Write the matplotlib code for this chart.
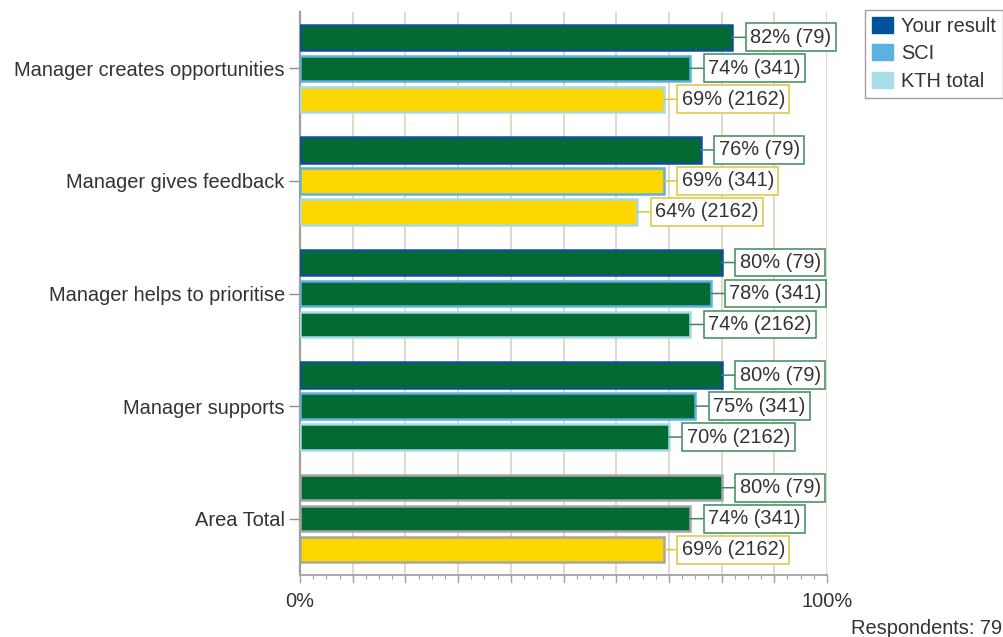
import matplotlib
matplotlib.use("Agg")
import matplotlib.pyplot as plt
from matplotlib.patches import Patch
from matplotlib.ticker import MultipleLocator, FixedLocator

plt.rcParams['font.family'] = ['Liberation Sans', 'DejaVu Sans']

categories = ["Manager creates opportunities", "Manager gives feedback",
              "Manager helps to prioritise", "Manager supports", "Area Total"]
series_names = ["Your result", "SCI", "KTH total"]
your_result = [82, 76, 80, 80, 80]
sci = [74, 69, 78, 75, 74]
kth_total = [69, 64, 74, 70, 69]
respondents = [79, 341, 2162]
total_respondents = 79

GREEN = "#036b31"
YELLOW = "#fed600"
GREEN_EDGE = "#3d8a5c"
YELLOW_EDGE = "#e3c23c"
series_edges = ["#0d4f9c", "#5cb2e2", "#a8dbe9"]
total_edge = "#a6a6a6"
TEXT = "#333333"
FS = 14.4

fig = plt.figure(figsize=(10.04, 6.37), dpi=100)
ax = fig.add_axes([300 / 1004, 1 - 575 / 637, 527 / 1004, 563 / 637])

offsets = [-0.275, 0.0, 0.275]
bar_h = 0.225
all_series = [your_result, sci, kth_total]

for s, (vals, off) in enumerate(zip(all_series, offsets)):
    for i, v in enumerate(vals):
        y = i + off
        face = GREEN if v >= 70 else YELLOW
        edge = total_edge if categories[i] == "Area Total" else series_edges[s]
        ax.barh(y, v, height=bar_h, left=0, color=face, edgecolor=edge,
                linewidth=1.8, zorder=3)
        box_edge = GREEN_EDGE if v >= 70 else YELLOW_EDGE
        ax.annotate(f"{v}% ({respondents[s]})", xy=(v, y), xytext=(18, 0),
                    textcoords="offset pixels", ha="left", va="center",
                    fontsize=FS, color=TEXT, zorder=5, annotation_clip=False,
                    bbox=dict(boxstyle="square,pad=0.22", fc="white",
                              ec=box_edge, lw=1.1),
                    arrowprops=dict(arrowstyle="-", color=box_edge, lw=1.1,
                                    shrinkA=0, shrinkB=0))

ax.set_xlim(0, 100)
ax.set_ylim(4.5, -0.5)

ax.set_yticks(range(len(categories)))
ax.set_yticklabels(categories, fontsize=FS, color=TEXT)
ax.tick_params(axis="y", length=8, width=1, color="#909090", pad=3)

ax.xaxis.set_major_locator(FixedLocator([0, 100]))
ax.xaxis.set_major_formatter(plt.FuncFormatter(lambda x, p: f"{x:.0f}%"))
ax.xaxis.set_minor_locator(MultipleLocator(2.5))
ax.tick_params(axis="x", which="major", length=0, pad=12, labelsize=FS,
               labelcolor=TEXT)
ax.tick_params(axis="x", which="minor", length=3, width=0.8, color="#a0a0a0")

# Vertical grid every 10%, with longer ticks beneath the axis
for gx in range(10, 101, 10):
    ax.axvline(gx, color="#dfd6c2", lw=1.3, zorder=1)
for gx in range(0, 101, 10):
    ax.plot([gx, gx], [0, -0.012], transform=ax.get_xaxis_transform(),
            color="#a0a0a0", lw=1, clip_on=False, zorder=2)

for side in ["top", "right"]:
    ax.spines[side].set_visible(False)
ax.spines["left"].set_color("#a39d92")
ax.spines["left"].set_linewidth(1.6)
ax.spines["bottom"].set_color("#a8a8a8")
ax.spines["bottom"].set_linewidth(1.4)

legend_colors = ["#00529b", "#5bb1e1", "#a9dce9"]
handles = [Patch(facecolor=c, edgecolor=c) for c in legend_colors]
leg = fig.legend(handles, series_names, loc="upper left",
                 bbox_to_anchor=(865 / 1004, 1 - 10 / 637), borderaxespad=0,
                 fontsize=FS, frameon=True, fancybox=False, framealpha=1,
                 edgecolor="#a0a0a0", handlelength=1.05, handleheight=0.85,
                 handletextpad=0.4, labelspacing=0.42, borderpad=0.35)
for t in leg.get_texts():
    t.set_color(TEXT)
leg.get_frame().set_linewidth(1.0)

fig.text(1002 / 1004, 1 - 628 / 637, f"Respondents: {total_respondents}",
         fontsize=FS, color=TEXT, ha="right", va="center")

fig.savefig("out.png", dpi=100)
